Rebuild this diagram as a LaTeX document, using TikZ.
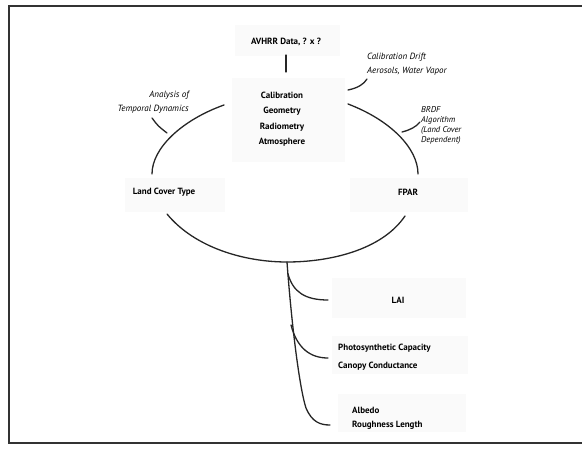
\documentclass[tikz,border=0pt]{standalone}
\usepackage{fontspec}
\setmainfont{PT Sans}
\begin{document}
\begin{tikzpicture}[x=1pt,y=-1pt,
  lbl/.style={font=\bfseries\fontsize{9}{15.5}\selectfont, inner sep=0pt, text=black},
  note/.style={font=\itshape\fontsize{9}{14}\selectfont, inner sep=0pt, text=black},
  shade/.style={fill=gray!4, draw=none},
  ln/.style={line width=1.3pt, black!85, line cap=round}]
\useasboundingbox (0,0) rectangle (582,449);
% frame
\draw[line width=1.3pt, black!80] (582,6) -- (9,6) -- (9,443) -- (582,443);
% faint background boxes
\fill[shade] (235,25) rectangle (340,56);
\fill[shade] (232,78) rectangle (345,162);
\fill[shade] (125,178) rectangle (225,212);
\fill[shade] (350,178) rectangle (468,212);
\fill[shade] (332,278) rectangle (466,318);
\fill[shade] (332,336) rectangle (468,374);
\fill[shade] (338,394) rectangle (466,432);
% texts
\node[lbl] (avhrr) at (286,42) {AVHRR Data, ? x ?};
\node[lbl, align=center] (calib) at (282,119) {Calibration\\Geometry\\Radiometry\\Atmosphere};
\node[note, align=right, anchor=east] (tempo) at (189,102) {Analysis of\\Temporal Dynamics};
\node[note, align=left, anchor=west] (drift) at (367,64) {Calibration Drift\\Aerosols, Water Vapor};
\node[note, align=left, anchor=west, font=\itshape\fontsize{8.5}{10}\selectfont] (brdf) at (421,125) {BRDF\\Algorithm\\(Land Cover\\Dependent)};
\node[lbl] (land) at (164,192) {Land Cover Type};
\node[lbl] (fpar) at (408,192) {FPAR};
\node[lbl] (lai) at (398,300) {LAI};
\node[lbl, align=left, anchor=west, font=\bfseries\fontsize{9}{18}\selectfont] (photo) at (338,357) {Photosynthetic Capacity\\Canopy Conductance};
\node[lbl, align=left, anchor=west, font=\bfseries\fontsize{9}{14}\selectfont] (albedo) at (352,418) {Albedo\\Roughness Length};
% coordinates
\coordinate (t1) at (286,55);
\coordinate (t2) at (286,72);
\coordinate (tl1) at (224,105);
\coordinate (tl2) at (152,174);
\coordinate (tr1) at (348,104);
\coordinate (tr2) at (418,174);
\coordinate (b1) at (167,214);
\coordinate (bm) at (287,262);
\coordinate (b2) at (405,216);
\coordinate (la) at (152,118);
\coordinate (lb) at (167,133);
\coordinate (da) at (348,90);
\coordinate (db) at (367,79);
\coordinate (ra) at (402,132);
\coordinate (rb) at (420,122);
\coordinate (j1) at (288,274);
\coordinate (j2) at (291,325);
\coordinate (e1) at (328,300);
\coordinate (e2) at (328,358);
\coordinate (e3) at (330,425);
% connectors
\draw[ln] (t1) -- (t2);
\draw[ln] (tl1) .. controls (182,120) and (152,148) .. (tl2);
\draw[ln] (tr1) .. controls (390,120) and (418,148) .. (tr2);
\draw[ln] (b1) .. controls (195,248) and (245,262) .. (bm) .. controls (330,262) and (382,250) .. (b2);
\draw[ln] (la) .. controls (158,126) .. (lb);
\draw[ln] (da) .. controls (358,88) and (364,84) .. (db);
\draw[ln] (ra) .. controls (410,130) and (416,127) .. (rb);
\draw[ln] (bm) .. controls (292,330) and (300,390) .. (306,408) .. controls (312,422) and (320,425) .. (e3);
\draw[ln] (j1) .. controls (293,292) and (305,300) .. (e1);
\draw[ln] (j2) .. controls (297,348) and (310,358) .. (e2);
\end{tikzpicture}
\end{document}
